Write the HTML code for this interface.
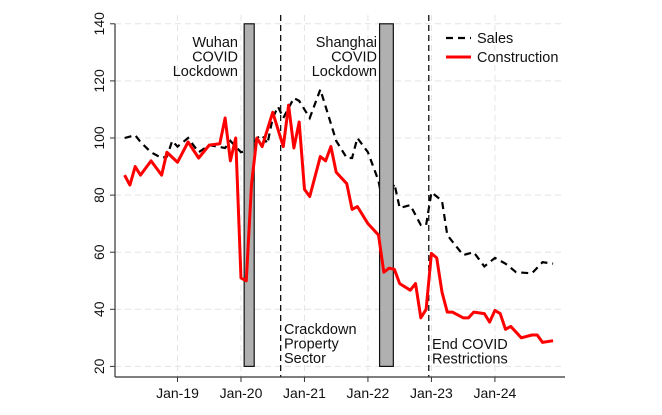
<!DOCTYPE html>
<html><head><meta charset="utf-8"><style>
body{margin:0;background:#fff}
svg text{font-family:"Liberation Sans",sans-serif;fill:#111}
</style></head><body>
<svg id="chart" width="662" height="410" xmlns="http://www.w3.org/2000/svg"></svg>
<script>
const salesMonths=[2,4,5,7,9,10,11,12,14,16,18,21,22,24,26,27,28,29,30,31,32,34,35,37,39,41,42,44,45,46,48,50,51,53,54,56,58,59,60,62,63,66,68,70,72,74,76,79,81,83];
const salesValues=[100,101,98.6,95,93,93.5,99,97,100,95,97.5,96.5,99,95,96,100,101,98,107,111,107,114,113,107,117,105,99,93,93,100,95,85,75,84,75.5,76.5,69.5,69.5,81,78,66,59,60,55,58,56,53,52.6,56.5,56];
const consMonths=[2,3,4,5,7,9,10,12,14,16,18,20,21,22,23,24,25,26,27,28,30,32,33,34,35,36,37,39,40,41,42,44,45,46,48,50,51,52,53,54,56,57,58,59,60,61,62,63,64,66,67,68,70,71,72,73,74,75,77,79,80,81,83];
const consValues=[87,83.5,90,87,92,87,95,91.5,98.6,93,97.5,98,107,92,100,51,50,84,100,97,109,97,111.5,96.5,105.6,82,79.5,93.5,92,97,88,84,75,76,70,66,53,54.4,54,49,46.7,49,37,40,59.6,58,46,39,39,37,37,39,38.5,35.5,39.6,38.5,33,34,30,31,31,28.4,29];
const yTicks=[20,40,60,80,100,120,140];
const xTickMonths=[12,24,36,48,60,72];
const xTickLabels=["Jan-19","Jan-20","Jan-21","Jan-22","Jan-23","Jan-24"];
const eventMonths=[31.5,59.5];
const lockdowns=[[24.6,26.5],[50.2,52.8]];

const svg=document.getElementById('chart');
const NS='http://www.w3.org/2000/svg';
const X=m=>177.5+(m-12)*5.29;
const Y=v=>138-(v-100)*2.855;
function mk(tag,attrs,parent){const e=document.createElementNS(NS,tag);for(const k in attrs)e.setAttribute(k,attrs[k]);(parent||svg).appendChild(e);return e;}

yTicks.forEach(v=>{
  const g=mk('line',{x1:115,x2:565,y1:Y(v),y2:Y(v),stroke:'#e4e4e4','stroke-dasharray':'6,4'});
  
  
});
xTickMonths.forEach(m=>{
  const g=mk('line',{x1:X(m),x2:X(m),y1:15,y2:377,stroke:'#e4e4e4','stroke-dasharray':'6,4'});
  
  
});
const sp=mk('polyline',{points:salesMonths.map((m,i)=>X(m)+','+Y(salesValues[i])).join(' '),fill:'none',stroke:'#000','stroke-width':2.2,'stroke-dasharray':'7,5'});


lockdowns.forEach((b,i)=>{
  const r=mk('rect',{x:X(b[0]),y:Y(140),width:X(b[1])-X(b[0]),height:Y(20)-Y(140),fill:'#b0b0b0',stroke:'#111','stroke-width':1.2});
  
  
});
eventMonths.forEach((m,i)=>{
  const l=mk('line',{x1:X(m),x2:X(m),y1:15,y2:377,stroke:'#111','stroke-width':1.3,'stroke-dasharray':'6,4'});
  
  
});
const cp=mk('polyline',{points:consMonths.map((m,i)=>X(m)+','+Y(consValues[i])).join(' '),fill:'none',stroke:'#f00','stroke-width':3,'stroke-linejoin':'round'});


const ya=mk('line',{x1:115,x2:115,y1:Y(140),y2:377,stroke:'#333','stroke-width':1.2});


const xa=mk('line',{x1:115,x2:565,y1:377,y2:377,stroke:'#333','stroke-width':1.2});


yTicks.forEach(v=>{
  const t=mk('line',{x1:110,x2:115,y1:Y(v),y2:Y(v),stroke:'#333'});
  
  
  const l=mk('text',{x:0,y:0,'font-size':14,'text-anchor':'middle',transform:`translate(104,${Y(v)}) rotate(-90)`});
  l.textContent=v;
  
  
});
xTickMonths.forEach((m,i)=>{
  const t=mk('line',{x1:X(m),x2:X(m),y1:377,y2:382,stroke:'#333'});
  
  
  const l=mk('text',{x:X(m),y:398,'font-size':14,'text-anchor':'middle'});
  l.textContent=xTickLabels[i];
  
  
});
function lines(arr,x,y0,anchor,name){
  const t=mk('text',{x:x,y:y0,'font-size':14.5,'text-anchor':anchor});
  
  
  arr.forEach((s,i)=>{const ts=mk('tspan',{x:x,y:y0+i*14.5},t);ts.textContent=s;});
}
lines(['Wuhan','COVID','Lockdown'],238,47,'end','wuhan-label');
lines(['Shanghai','COVID','Lockdown'],377,47,'end','shanghai-label');
lines(['Crackdown','Property','Sector'],284,334,'start','crackdown-label');
lines(['End COVID','Restrictions'],432,349,'start','end-covid-label');
const lg=mk('g',{});


const l1=mk('line',{x1:446,x2:471,y1:38,y2:38,stroke:'#000','stroke-width':2.2,'stroke-dasharray':'7,5'},lg);


const t1=mk('text',{x:477,y:43,'font-size':14.5},lg);t1.textContent='Sales';


const l2=mk('line',{x1:446,x2:471,y1:57,y2:57,stroke:'#f00','stroke-width':3},lg);


const t2=mk('text',{x:477,y:62,'font-size':14.5},lg);t2.textContent='Construction';


</script>
</body></html>
